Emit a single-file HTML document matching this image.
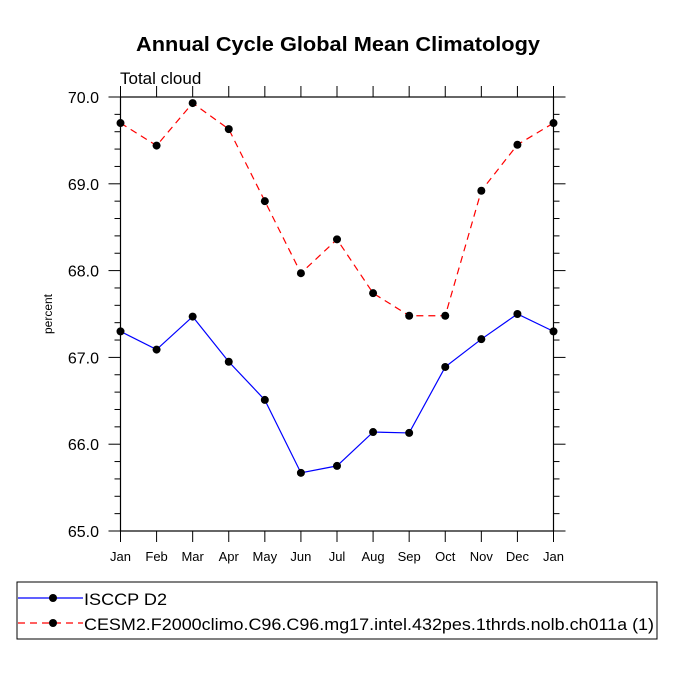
<!DOCTYPE html>
<html><head><meta charset="utf-8"><style>
body{margin:0;background:#fff;font-family:"Liberation Sans",sans-serif}
svg text{font-family:"Liberation Sans",sans-serif}
</style></head><body>
<svg width="675" height="675" viewBox="0 0 675 675">
<text x="136" y="51" font-size="20" font-weight="bold" textLength="404" lengthAdjust="spacingAndGlyphs">Annual Cycle Global Mean Climatology</text>
<text x="120" y="84" font-size="17">Total cloud</text>
<text transform="translate(52,314) rotate(-90)" text-anchor="middle" font-size="12">percent</text>
<g id="axes"></g>
<g id="series"></g>
<rect x="17" y="582" width="640" height="57" fill="none" stroke="#000" stroke-width="1"/>
<g>
<line x1="18" y1="598" x2="83" y2="598" stroke="#0000ff" stroke-width="1.2"/>
<circle cx="53" cy="598" r="4" fill="#000"/>
<text x="84" y="605" font-size="17" textLength="83" lengthAdjust="spacingAndGlyphs">ISCCP D2</text></g>
<g>
<line x1="18" y1="623" x2="83" y2="623" stroke="#ff0000" stroke-width="1.2" stroke-dasharray="7,5"/>
<circle cx="53" cy="623" r="4" fill="#000"/>
<text x="84" y="630" font-size="17" textLength="570" lengthAdjust="spacingAndGlyphs">CESM2.F2000climo.C96.C96.mg17.intel.432pes.1thrds.nolb.ch011a (1)</text></g>
</svg>
<script>
const months=["Jan","Feb","Mar","Apr","May","Jun","Jul","Aug","Sep","Oct","Nov","Dec","Jan"];
const isccp=[67.30,67.09,67.47,66.95,66.51,65.67,65.75,66.14,66.13,66.89,67.21,67.50,67.30];
const cesm=[69.70,69.44,69.93,69.63,68.80,67.97,68.36,67.74,67.48,67.48,68.92,69.45,69.70];
const yTicks=["65.0","66.0","67.0","68.0","69.0","70.0"];
const NS="http://www.w3.org/2000/svg";
const L=120.5,R=553.5,T=97,B=531,ymin=65,ymax=70;
const xs=i=>L+i*(R-L)/12;
const ys=v=>B-(v-ymin)/(ymax-ymin)*(B-T);
function mk(t,a,p){const e=document.createElementNS(NS,t);for(const k in a)e.setAttribute(k,a[k]);p.appendChild(e);return e;}
const ax=document.getElementById('axes');
const frame=mk('rect',{x:L,y:T,width:R-L,height:B-T,fill:'none',stroke:'#000','stroke-width':1.2},ax);


months.forEach((m,i)=>{const x=xs(i);
mk('line',{x1:x,y1:B,x2:x,y2:B+11,stroke:'#000'},ax);
mk('line',{x1:x,y1:T,x2:x,y2:T-11,stroke:'#000'},ax);
const t=mk('text',{x:x,y:B+30,'text-anchor':'middle','font-size':13},ax);t.textContent=m;

});
for(let v=ymin;v<=ymax+1e-6;v+=0.2){const y=ys(v);const maj=Math.abs(v-Math.round(v))<1e-6;const len=maj?12:6;
mk('line',{x1:L,y1:y,x2:L-len,y2:y,stroke:'#000'},ax);
mk('line',{x1:R,y1:y,x2:R+len,y2:y,stroke:'#000'},ax);}
yTicks.forEach(s=>{const t=mk('text',{x:99,y:ys(parseFloat(s))+6,'text-anchor':'end','font-size':16},ax);t.textContent=s;

});
const sg=document.getElementById('series');
function series(vals,color,dash,name){const g=mk('g',{},sg);


mk('polyline',{points:vals.map((v,i)=>xs(i)+','+ys(v)).join(' '),fill:'none',stroke:color,'stroke-width':1.2,'stroke-dasharray':dash},g);
vals.forEach((v,i)=>{const c=mk('circle',{cx:xs(i),cy:ys(v),r:4,fill:'#000'},g);

});}
series(isccp,'#0000ff','none','isccp-series');
series(cesm,'#ff0000','7,5','cesm-series');
</script>
</body></html>
